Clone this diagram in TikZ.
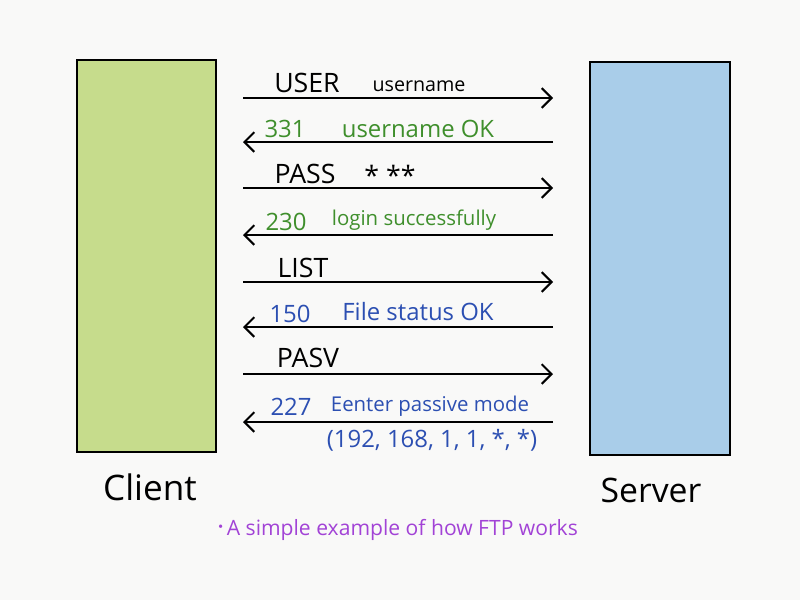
\documentclass[tikz,border=0pt]{standalone}
\usepackage{fontspec}
\setmainfont{Open Sans}
\usepackage{tikz}
\usetikzlibrary{arrows.meta,positioning}

\definecolor{paper}{HTML}{F9F9F8}
\definecolor{clientfill}{HTML}{C6DC8C}
\definecolor{serverfill}{HTML}{A9CDE9}
\definecolor{replygreen}{HTML}{3F8F2C}
\definecolor{replyblue}{HTML}{2C4FB2}
\definecolor{notepurple}{HTML}{A243D6}

\tikzset{
  host/.style={draw=black,line width=1.6pt},
  msg/.style={line width=1.4pt,-{Straight Barb[length=7pt,width=14pt]}},
  cmd/.style={font=\fontsize{19}{21}\selectfont,inner sep=0pt},
  arg/.style={font=\fontsize{14}{16}\selectfont,inner sep=0pt},
  reply/.style={font=\fontsize{17}{19}\selectfont,inner sep=0pt},
  longreply/.style={reply,font=\fontsize{14.5}{17}\selectfont},
}

\begin{document}
\begin{tikzpicture}[x=0.025cm,y=-0.025cm]
  \fill[paper] (0,0) rectangle (800,600);
  \useasboundingbox (0,0) rectangle (800,600);
  % the two hosts
  \filldraw[host,fill=clientfill] (77,60) rectangle (216,452);
  \filldraw[host,fill=serverfill] (590,62) rectangle (730,455);
  \node[font=\fontsize{25}{28}\selectfont] (client) at (150,487) {Client};
  \node[font=\fontsize{24}{27}\selectfont] (server) at (651,490) {Server};
  % end points of the messages
  \foreach \n/\y in {1/98,2/142,3/188,4/235,5/282,6/327,7/374,8/422}{
    \coordinate (l\n) at (243,\y);
    \coordinate (r\n) at (553,\y);
  }
  % requests: client -> server
  \foreach \n in {1,3,5,7}
  \draw[msg] (l\n) -- (r\n);
  % replies: server -> client
  \foreach \n in {2,4,6,8}
  \draw[msg] (r\n) -- (l\n);
  % labels
  \node[cmd] (user) at (307,83) {USER};
  \node[arg] (username) at (419,86) {username};
  \node[reply,text=replygreen] (c331) at (285,129) {331};
  \node[reply,text=replygreen] (ok331) at (418,129) {username OK};
  \node[cmd] (pass) at (305,174) {PASS};
  \node[cmd] (stars) at (390,175) {* **};
  \node[reply,text=replygreen] (c230) at (286,222) {230};
  \node[longreply,text=replygreen] (ok230) at (414,220) {login successfully};
  \node[cmd] (list) at (303,268) {LIST};
  \node[reply,text=replyblue] (c150) at (290,314) {150};
  \node[reply,text=replyblue] (ok150) at (418,312) {File status OK};
  \node[cmd] (pasv) at (308,358) {PASV};
  \node[reply,text=replyblue] (c227) at (291,407) {227};
  \node[longreply,text=replyblue] (ok227) at (430,406) {Eenter passive mode};
  \node[reply,text=replyblue] (addr) at (432,440) {(192, 168, 1, 1, *, *)};
  % note
  \node[font=\fontsize{15}{17}\selectfont,text=notepurple] (note) at (398,530)
  {\raisebox{0.6ex}{\tiny$\bullet$}\,A simple example of how FTP works};
\end{tikzpicture}
\end{document}
